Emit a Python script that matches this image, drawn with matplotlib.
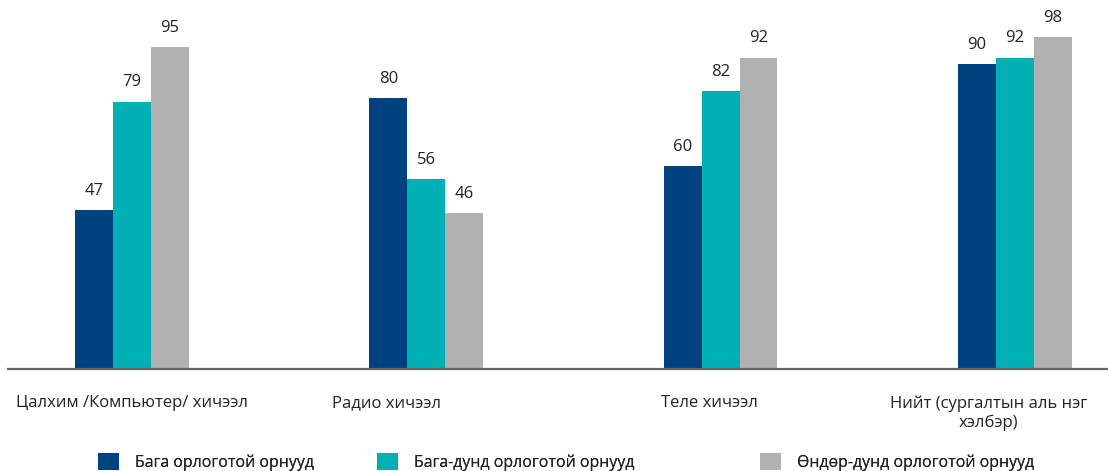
import matplotlib
matplotlib.use("Agg")
import matplotlib.pyplot as plt
import numpy as np

plt.rcParams['font.family'] = ['Open Sans', 'DejaVu Sans']

categories = ["Цалхим /Компьютер/ хичээл", "Радио хичээл", "Теле хичээл",
              "Нийт (сургалтын аль нэг\nхэлбэр)"]
series_names = ["Бага орлоготой орнууд", "Бага-дунд орлоготой орнууд",
                "Өндөр-дунд орлоготой орнууд"]
low_income = [47, 80, 60, 90]
lower_middle = [79, 56, 82, 92]
upper_middle = [95, 46, 92, 98]
colors = ["#00427F", "#00B0B4", "#B1B1B1"]

series = [low_income, lower_middle, upper_middle]

fig = plt.figure(figsize=(11.08, 4.71), dpi=100)
ax = fig.add_axes([8 / 1108, 1 - 369 / 471, 1100 / 1108, 369 / 471])

x = np.arange(len(categories))
width = 0.129
handles = []
for i, (vals, name, c) in enumerate(zip(series, series_names, colors)):
    bars = ax.bar(x + (i - 1) * width, vals, width, color=c, label=name)
    handles.append(bars)
    for b, v in zip(bars, vals):
        ax.annotate(f"{v}", (b.get_x() + b.get_width() / 2, v),
                    xytext=(0, 8), textcoords="offset points",
                    ha="center", va="bottom", fontsize=12, color="#222222")

ax.set_xlim(-0.422, 3.317)
ax.set_ylim(0, 109)
ax.set_yticks([])

# category labels sit slightly off the group centres
label_shift = [0.0, -0.134, -0.039, -0.09]
ax.set_xticks(x + np.array(label_shift))
ax.set_xticklabels(categories, fontsize=12, color="#222222", linespacing=1.2)
ax.tick_params(axis="x", length=0, pad=19)
for s in ["top", "left", "right"]:
    ax.spines[s].set_visible(False)
ax.spines["bottom"].set_color("#666666")
ax.spines["bottom"].set_linewidth(1.6)

# one legend entry per slot along the bottom
legend_x = [98, 377, 760]
for h, name, lx in zip(handles, series_names, legend_x):
    leg = fig.legend(handles=[h], labels=[name], loc="center left",
                     bbox_to_anchor=(lx / 1108, 1 - 462 / 471), frameon=False,
                     fontsize=11.4, handlelength=1.3, handleheight=1.3,
                     handletextpad=1.05, borderpad=0, borderaxespad=0,
                     labelcolor="#222222")
    fig.add_artist(leg)

fig.savefig("out.png", dpi=100)
